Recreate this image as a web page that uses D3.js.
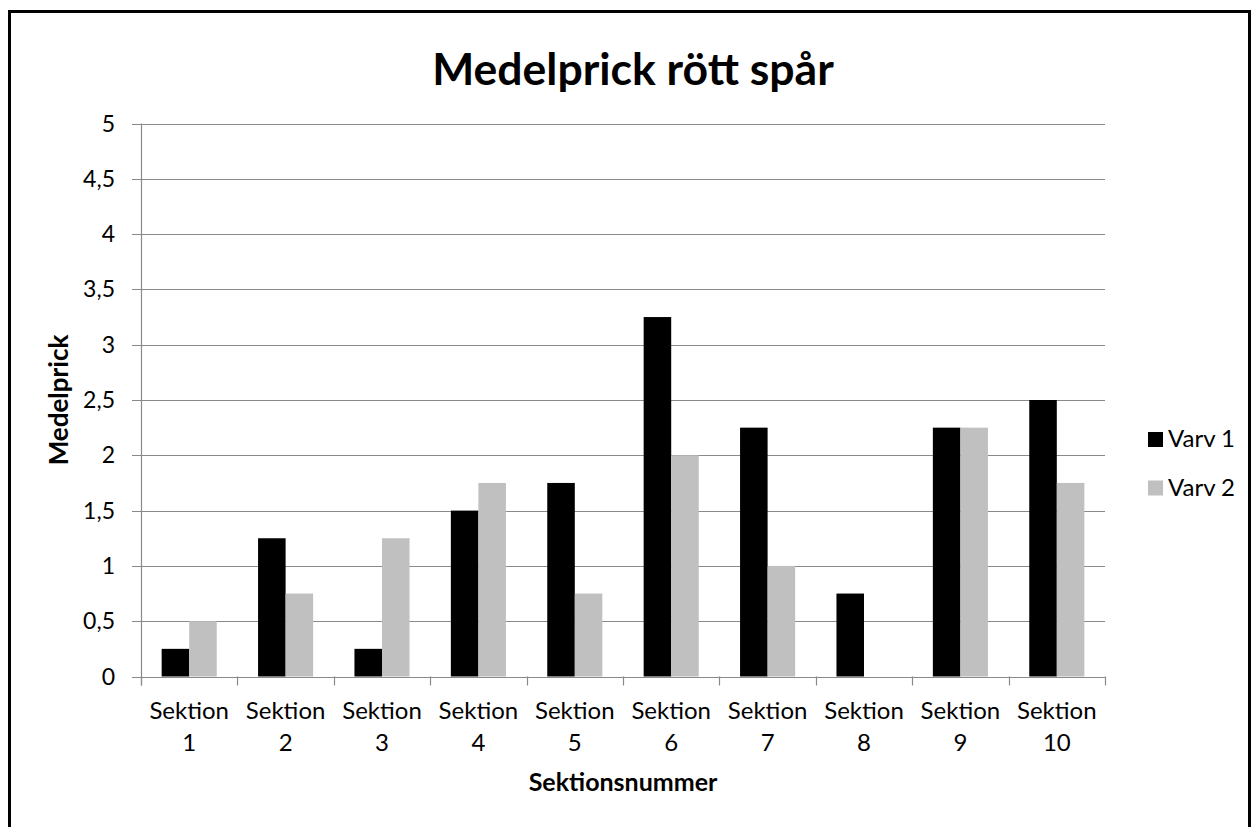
<!DOCTYPE html>
<html><head><meta charset="utf-8">
<script src="https://cdn.jsdelivr.net/npm/d3@7"></script>
<style>html,body{margin:0;padding:0;background:#fff;}svg{display:block;font-family:Lato, "Open Sans", sans-serif;}</style>
</head><body>
<svg id="c" width="1254" height="827"></svg>
<script>
const categories = ["Sektion 1","Sektion 2","Sektion 3","Sektion 4","Sektion 5","Sektion 6","Sektion 7","Sektion 8","Sektion 9","Sektion 10"];
const seriesNames = ["Varv 1","Varv 2"];
const varv1 = [0.25,1.25,0.25,1.5,1.75,3.25,2.25,0.75,2.25,2.5];
const varv2 = [0.5,0.75,1.25,1.75,0.75,2,1,0,2.25,1.75];
const yTicks = [0,0.5,1,1.5,2,2.5,3,3.5,4,4.5,5];
const colors = ["#000000","#c0c0c0"];
const title = "Medelprick rött spår";
const yTitle = "Medelprick";
const xTitle = "Sektionsnummer";

const svg = d3.select("#c");
svg.append("rect").attr("x",9.5).attr("y",11.5).attr("width",1240).attr("height",840)
  .attr("fill","none").attr("stroke","#000").attr("stroke-width",3);

const L=141, R=1105, T=123.5, B=676.5;
const x = d3.scaleBand().domain(categories).range([L,R]).paddingInner(0).paddingOuter(0);
const y = d3.scaleLinear().domain([0,5]).range([B,T]);
const bw = x.bandwidth()/3.5;
const gx = d3.scaleBand().domain(seriesNames).range([0.75*bw, 2.75*bw]);

const grid = svg.append("g");
yTicks.forEach(t=>{
  grid.append("line").attr("x1",L-9).attr("x2",R).attr("y1",Math.round(y(t))+0.5).attr("y2",Math.round(y(t))+0.5)
    .attr("stroke","#8a8a8a").attr("stroke-width",1.2);
  svg.append("text").attr("x",L-26).attr("y",y(t)+8).attr("text-anchor","end")
    .attr("font-size",23).attr("fill","#000").text(String(t).replace(".",","));
});
svg.append("line").attr("x1",L+0.5).attr("x2",L+0.5).attr("y1",T).attr("y2",B+9).attr("stroke","#8a8a8a").attr("stroke-width",1.2);
categories.concat(["end"]).forEach((c,i)=>{
  const xx = i<categories.length ? x(c) : R;
  svg.append("line").attr("x1",Math.round(xx)+0.5).attr("x2",Math.round(xx)+0.5).attr("y1",B).attr("y2",B+9)
    .attr("stroke","#8a8a8a").attr("stroke-width",1.2);
});

const data = [varv1, varv2];
data.forEach((vals,si)=>{
  svg.append("g").selectAll("rect").data(vals).join("rect")
    .attr("x",(d,i)=>x(categories[i])+gx(seriesNames[si]))
    .attr("width",gx.bandwidth())
    .attr("y",d=>y(d)).attr("height",d=>B-y(d))
    .attr("fill",colors[si]);
});

categories.forEach(c=>{
  const parts = c.split(" ");
  const t = svg.append("text").attr("text-anchor","middle").attr("font-size",24).attr("fill","#000");
  t.append("tspan").attr("x",x(c)+x.bandwidth()/2).attr("y",719).text(parts[0]);
  t.append("tspan").attr("x",x(c)+x.bandwidth()/2).attr("y",751).text(parts[1]);
});

svg.append("text").attr("x",633).attr("y",85).attr("text-anchor","middle")
  .attr("font-size",44.5).attr("font-weight","bold").text(title);
svg.append("text").attr("transform",`translate(68,${(T+B)/2}) rotate(-90)`).attr("text-anchor","middle")
  .attr("font-size",26).attr("font-weight","bold").text(yTitle);
svg.append("text").attr("x",(L+R)/2).attr("y",791).attr("text-anchor","middle")
  .attr("font-size",25).attr("font-weight","bold").text(xTitle);

seriesNames.forEach((s,i)=>{
  const yy = 432 + i*48.5;
  svg.append("rect").attr("x",1148).attr("y",yy).attr("width",15).attr("height",15).attr("fill",colors[i]);
  svg.append("text").attr("x",1168).attr("y",yy+15).attr("font-size",24).text(s);
});
</script>
</body></html>
